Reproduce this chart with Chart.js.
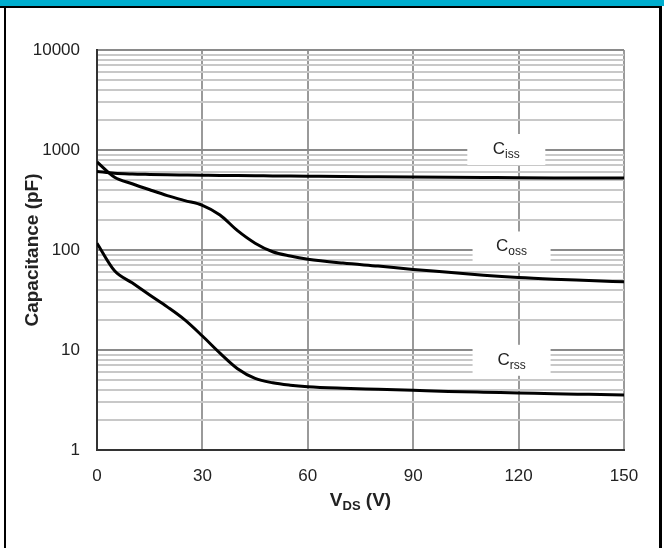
<!DOCTYPE html>
<html>
<head>
<meta charset="utf-8">
<script src="https://cdn.jsdelivr.net/npm/chart.js@4.4.1/dist/chart.umd.min.js"></script>
<style>
  body { margin: 0; background: #fff; }
  #wrap { position: relative; width: 664px; height: 548px; overflow: hidden; }
  #wrap canvas { position: absolute; left: 0; top: 0; }
  .bar { position: absolute; left: 0; top: 0; width: 664px; height: 6px; background: #00aecf; }
  .topline { position: absolute; left: 0; top: 6px; width: 662px; height: 2px; background: #000; }
  .lside { position: absolute; left: 4px; top: 6px; width: 2px; height: 542px; background: #000; }
  .rside { position: absolute; left: 659px; top: 6px; width: 3px; height: 542px; background: #000; }
</style>
</head>
<body>
<div id="wrap">
  <canvas id="myChart" width="664" height="548"></canvas>
  <div class="bar"></div>
  <div class="topline"></div>
  <div class="lside"></div>
  <div class="rside"></div>
</div>
<script>
// drain-source voltage (V)
const vds = [0, 5, 10, 15, 20, 25, 30, 35, 40, 45, 50, 55, 60, 70, 80, 90, 100, 110, 120, 130, 140, 150];
// capacitances (pF)
const ciss = [610, 585, 575, 570, 566, 563, 560, 557, 555, 553, 551, 549, 547, 543, 540, 537, 534, 531, 528, 526, 525, 524];
const coss = [760, 535, 460, 400, 350, 312, 280, 224, 156, 117, 96, 87, 81, 74, 69, 64, 60, 56, 53, 51, 49.5, 48];
const crss = [117, 62, 47, 35.5, 27, 20, 13.8, 9.3, 6.5, 5.2, 4.7, 4.45, 4.3, 4.15, 4.05, 3.95, 3.85, 3.78, 3.72, 3.65, 3.6, 3.55];

const xTicks = [0, 30, 60, 90, 120, 150];
const yMajorTicks = [1, 10, 100, 1000, 10000];

// curve labels: name, subscript, anchor (V, pF)
const curveLabels = [
  { main: "C", sub: "iss", v: 116.5, pf: 1000 },
  { main: "C", sub: "oss", v: 118, pf: 106 },
  { main: "C", sub: "rss", v: 118, pf: 7.8 },
];

const FONT = "'Liberation Sans', Arial, sans-serif";

const toPoints = (ys) => vds.map((v, i) => ({ x: v, y: ys[i] }));

// all log grid positions (1..9 per decade)
const yGrid = [];
yMajorTicks.forEach((d, i) => {
  if (i === yMajorTicks.length - 1) { yGrid.push(d); return; }
  for (let m = 1; m <= 9; m++) yGrid.push(d * m);
});

const labelPlugin = {
  id: "curveLabels",
  beforeDatasetsDraw(chart) {
    const { ctx, scales } = chart;
    ctx.save();
    curveLabels.forEach((l) => {
      const cx = scales.x.getPixelForValue(l.v);
      const cy = scales.y.getPixelForValue(l.pf);
      ctx.fillStyle = "#fff";
      ctx.fillRect(cx - 39, cy - 16, 78, 31);
      ctx.font = "17px " + FONT;
      const w1 = ctx.measureText(l.main).width;
      ctx.font = "12px " + FONT;
      const w2 = ctx.measureText(l.sub).width;
      const x0 = cx - (w1 + w2) / 2;
      ctx.fillStyle = "#222";
      ctx.textBaseline = "alphabetic";
      ctx.font = "17px " + FONT;
      ctx.fillText(l.main, x0, cy + 4);
      ctx.font = "12px " + FONT;
      ctx.fillText(l.sub, x0 + w1, cy + 8);
    });
    ctx.restore();
  },
  afterDraw(chart) {
    // x axis title with subscript
    const { ctx, chartArea } = chart;
    ctx.save();
    ctx.fillStyle = "#222";
    const big = "bold 19px " + FONT, small = "bold 13px " + FONT;
    ctx.font = big;
    const a = ctx.measureText("V").width;
    const c = ctx.measureText(" (V)").width;
    ctx.font = small;
    const b = ctx.measureText("DS").width;
    let x = (chartArea.left + chartArea.right) / 2 - (a + b + c) / 2;
    const y = chartArea.bottom + 56;
    ctx.textBaseline = "alphabetic";
    ctx.font = big; ctx.fillText("V", x, y); x += a;
    ctx.font = small; ctx.fillText("DS", x, y + 4); x += b;
    ctx.font = big; ctx.fillText(" (V)", x, y);
    ctx.restore();
  },
};

const line = (data) => ({
  data: toPoints(data),
  borderColor: "#000",
  borderWidth: 3,
  pointRadius: 0,
  fill: false,
  cubicInterpolationMode: "monotone",
});

new Chart(document.getElementById("myChart").getContext("2d"), {
  type: "line",
  data: { datasets: [line(ciss), line(coss), line(crss)] },
  options: {
    responsive: false,
    animation: false,
    devicePixelRatio: 1,
    layout: { padding: { left: 0, top: 50, right: 40, bottom: 0 } },
    plugins: { legend: { display: false }, tooltip: { enabled: false } },
    scales: {
      x: {
        type: "linear",
        min: 0,
        max: 150,
        afterFit: (s) => { s.height = 98; },
        afterBuildTicks: (s) => { s.ticks = xTicks.map((v) => ({ value: v })); },
        grid: { color: "#9a9a9a", lineWidth: 2, drawTicks: false },
        border: { color: "#333", width: 2 },
        ticks: { padding: 16, color: "#222", font: { family: FONT, size: 17 } },
      },
      y: {
        type: "logarithmic",
        min: 1,
        max: 10000,
        afterFit: (s) => { s.width = 97; },
        afterBuildTicks: (s) => {
          s.ticks = yGrid.map((v) => ({ value: v, major: yMajorTicks.includes(v) }));
        },
        grid: {
          drawTicks: false,
          lineWidth: 2,
          color: (c) => (c.tick && yMajorTicks.includes(c.tick.value) ? "#8a8a8a" : "#c8c8c8"),
        },
        border: { color: "#333", width: 2 },
        ticks: {
          autoSkip: false,
          padding: 17,
          color: "#222",
          font: { family: FONT, size: 17 },
          callback: (v) => (yMajorTicks.includes(v) ? String(v) : ""),
        },
        title: {
          display: true,
          text: "Capacitance (pF)",
          color: "#222",
          font: { family: FONT, size: 19, weight: "bold" },
          padding: { top: 21, bottom: 0 },
        },
      },
    },
  },
  plugins: [labelPlugin],
});
</script>
</body>
</html>
